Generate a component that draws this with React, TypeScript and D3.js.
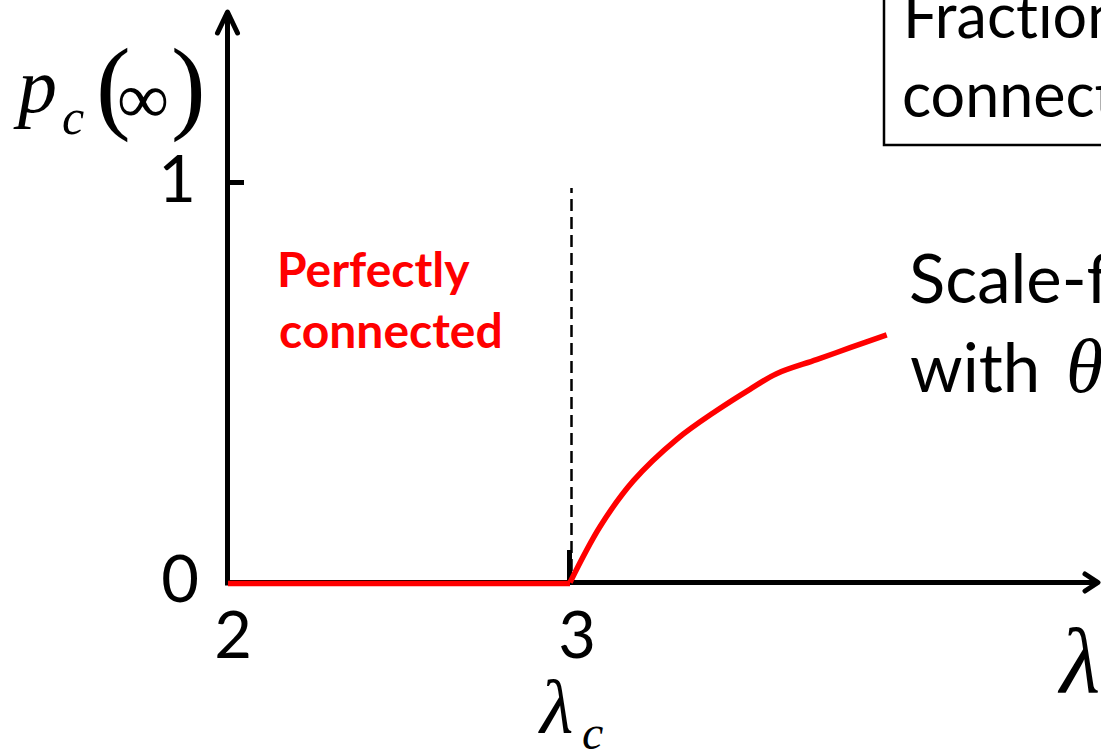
import React from "react";
import * as d3 from "d3";

// Giant-component size p_c(∞) versus the degree exponent λ
const lambdaValues = [3.0, 3.088, 3.185, 3.312, 3.429, 3.526, 3.604, 3.721, 3.819, 3.926];
const pcValues = [0, 0.14, 0.254, 0.358, 0.43, 0.483, 0.522, 0.557, 0.587, 0.619];
// Flat segment below the critical exponent
const flatLambda = [2, 3];
const flatPc = [0, 0];

const xTicks = [2, 3];
const yTicks = [0, 1];
const criticalLambda = 3;

const W = 1101;
const H = 751;

export default function App() {
  const x = d3.scaleLinear().domain([2, 3]).range([228, 570]);
  const y = d3.scaleLinear().domain([0, 1]).range([582.5, 182.5]);

  const curve = d3
    .line<number>()
    .x((_, i) => x(lambdaValues[i]))
    .y((_, i) => y(pcValues[i]))
    .curve(d3.curveCatmullRom.alpha(0.5))(lambdaValues);

  const flat = d3
    .line<number>()
    .x((_, i) => x(flatLambda[i]))
    .y((_, i) => y(flatPc[i]) + 1)(flatLambda);

  const x0 = x(2) - 0.5;
  const y0 = y(0);
  const sans = "Lato, 'Open Sans', sans-serif";
  const serif = "'Liberation Serif', 'DejaVu Serif', serif";
  const noLig = { fontVariantLigatures: "none" } as React.CSSProperties;

  return (
    <svg
      width={W}
      height={H}
      viewBox={`0 0 ${W} ${H}`}
      style={{ position: "fixed", left: 0, top: 0, background: "#fff" }}
    >
      <rect x={0} y={0} width={W} height={H} fill="#fff" />

      {/* box in the upper right */}
      <rect x={884} y={-10} width={300} height={155} fill="#fff" stroke="#000" strokeWidth={2.5} />
      <text x={903} y={38} fontFamily={sans} fontSize={61} fill="#000" style={noLig}>Fraction</text>
      <text x={902} y={117} fontFamily={sans} fontSize={61} fill="#000" style={noLig}>connected</text>

      {/* axes with open arrowheads */}
      <line x1={x0} y1={y0 + 3} x2={x0} y2={13} stroke="#000" strokeWidth={5} />
      <polyline
        points={`${x0 - 10},${33} ${x0},${12} ${x0 + 10},${33}`}
        fill="none"
        stroke="#000"
        strokeWidth={5}
        strokeLinecap="round"
        strokeLinejoin="round"
      />
      <line x1={x0 - 2} y1={y0} x2={1096} y2={y0} stroke="#000" strokeWidth={5} />
      <polyline
        points={`${1085},${y0 - 8.5} ${1098},${y0} ${1085},${y0 + 8.5}`}
        fill="none"
        stroke="#000"
        strokeWidth={5}
        strokeLinecap="round"
        strokeLinejoin="round"
      />

      {/* tick at p = 1 */}
      <line x1={x0} y1={y(1)} x2={244} y2={y(1)} stroke="#000" strokeWidth={5} />
      {/* tick at λ_c */}
      <line x1={x(criticalLambda) - 0.5} y1={550} x2={x(criticalLambda) - 0.5} y2={y0} stroke="#000" strokeWidth={5} />
      {/* critical exponent marker */}
      <line
        x1={x(criticalLambda) + 1.5}
        y1={188}
        x2={x(criticalLambda) + 1.5}
        y2={y0}
        stroke="#000"
        strokeWidth={2.5}
        strokeDasharray="12 6"
        strokeDashoffset={7}
      />

      {/* tick labels */}
      <text x={196} y={202} textAnchor="end" fontFamily={sans} fontSize={65} fill="#000">{yTicks[1]}</text>
      <text x={180} y={602} textAnchor="middle" fontFamily={sans} fontSize={65} fill="#000">{yTicks[0]}</text>
      <text x={x(xTicks[0]) + 5} y={658} textAnchor="middle" fontFamily={sans} fontSize={65} fill="#000">{xTicks[0]}</text>
      <text x={x(xTicks[1]) + 7} y={658} textAnchor="middle" fontFamily={sans} fontSize={65} fill="#000">{xTicks[1]}</text>

      {/* y-axis title p_c(∞) */}
      <text x={18} y={112} fontFamily={serif} fontStyle="italic" fontSize={78} fill="#000">p</text>
      <text x={62} y={134} fontFamily={serif} fontStyle="italic" fontSize={50} fill="#000">c</text>
      <text x={96} y={120} fontFamily={serif} fontSize={104} fill="#000">(</text>
      <text x={117} y={123} fontFamily={serif} fontSize={73} fill="#000">∞</text>
      <text x={171} y={120} fontFamily={serif} fontSize={104} fill="#000">)</text>

      {/* λ_c under the critical tick */}
      <text x={540} y={733} fontFamily={serif} fontStyle="italic" fontSize={77} fill="#000">λ</text>
      <text x={582} y={749} fontFamily={serif} fontStyle="italic" fontSize={48} fill="#000">c</text>

      {/* x-axis title */}
      <text x={1060} y={692} fontFamily={serif} fontStyle="italic" fontSize={93} fill="#000">λ</text>

      {/* annotations */}
      <text x={277} y={287} fontFamily={sans} fontWeight="bold" fontSize={48} fill="#ff0000">Perfectly</text>
      <text x={279} y={348} fontFamily={sans} fontWeight="bold" fontSize={48} fill="#ff0000">connected</text>

      <text x={909} y={303} fontFamily={sans} fontSize={67} fill="#000" style={noLig}>Scale-free</text>
      <text x={910} y={392} fontFamily={sans} fontSize={67} fill="#000">with</text>
      <text x={1066} y={392} fontFamily={serif} fontStyle="italic" fontSize={76} fill="#000">θ</text>

      {/* data curves */}
      <path d={flat ?? ""} fill="none" stroke="#ff0000" strokeWidth={5.5} />
      <path d={curve ?? ""} fill="none" stroke="#ff0000" strokeWidth={5.5} />
    </svg>
  );
}
